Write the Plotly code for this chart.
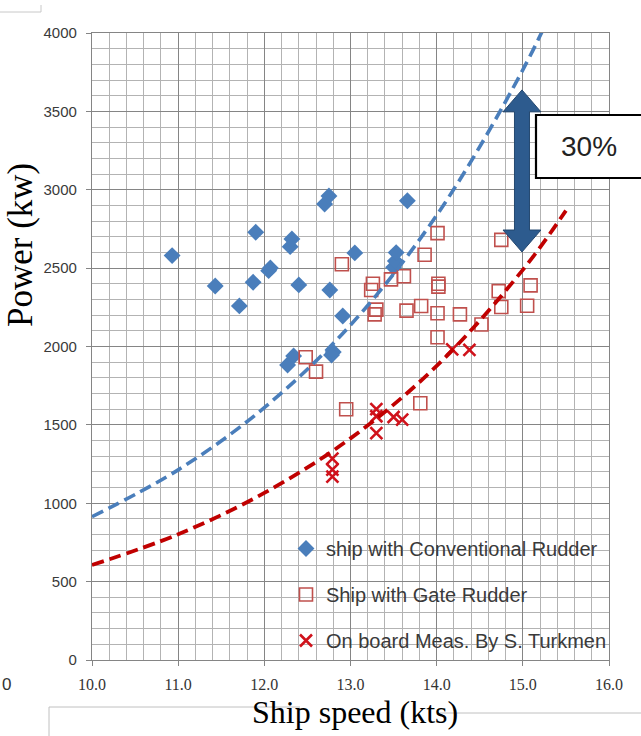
import plotly.graph_objects as go

# ---------------- data ----------------
conv_speed = [10.93, 11.43, 11.71, 11.87, 11.90, 12.05, 12.07, 12.30, 12.32, 12.40,
              12.27, 12.34, 12.70, 12.75, 12.76, 12.80, 12.78, 12.91, 13.05, 13.50,
              13.52, 13.53, 13.66]
conv_power = [2580, 2386, 2259, 2410, 2729, 2484, 2501, 2637, 2686, 2393,
              1882, 1940, 2909, 2960, 2360, 1965, 1945, 2195, 2597, 2505,
              2545, 2599, 2930]

gate_speed = [12.48, 12.60, 12.90, 12.95, 13.24, 13.26, 13.28, 13.30, 13.47, 13.62,
              13.65, 13.81, 13.82, 13.86, 14.01, 14.01, 14.01, 14.02, 14.02, 14.27,
              14.52, 14.72, 14.75, 14.75, 15.05, 15.09]
gate_power = [1931, 1840, 2525, 1600, 2360, 2400, 2205, 2235, 2428, 2448,
              2229, 1638, 2258, 2585, 2723, 2212, 2059, 2400, 2382, 2205,
              2140, 2353, 2252, 2680, 2260, 2390]

board_speed = [12.79, 12.79, 12.79, 13.30, 13.30, 13.30, 13.50, 13.60, 14.18, 14.38]
board_power = [1285, 1215, 1170, 1600, 1555, 1447, 1550, 1533, 1982, 1978]

# dashed trend curves, read at whole knots
trend_speed = [10.0, 11.0, 12.0, 13.0, 14.0, 15.0, 15.5]
trend_conv = [914, 1213, 1610, 2137, 2837, 3765, 4338]
trend_gate = [606, 802, 1066, 1414, 1876, 2489, 2867]

series_names = ["ship with Conventional Rudder", "Ship with Gate Rudder",
                "On board Meas. By S. Turkmen"]

x_title = "Ship speed (kts)"
y_title = "Power (kw)"
gap_label = "30%"

# double arrow marking the gap (data units)
arrow_x = 14.99
arrow_top = 3637
arrow_bottom = 2603

# ---------------- styling ----------------
BLUE = "#4A7EBB"
SQ_RED = "#C0504D"
X_RED = "#D0121B"
TREND_RED = "#C00000"

fig = go.Figure()

fig.add_trace(go.Scatter(
    x=conv_speed, y=conv_power, mode="markers", name=series_names[0],
    legendgroup="a",
    marker=dict(symbol="diamond", size=13, color=BLUE, line=dict(width=0))))
fig.add_trace(go.Scatter(
    x=gate_speed, y=gate_power, mode="markers", name=series_names[1],
    legendgroup="b",
    marker=dict(symbol="square-open", size=13, color=SQ_RED, line=dict(width=1.6))))
fig.add_trace(go.Scatter(
    x=board_speed, y=board_power, mode="markers", name=series_names[2],
    legendgroup="c",
    marker=dict(symbol="x-thin-open", size=12, color=X_RED, line=dict(width=2.6, color=X_RED))))

fig.add_trace(go.Scatter(
    x=trend_speed, y=trend_conv, mode="lines", showlegend=False, hoverinfo="skip",
    line=dict(color=BLUE, width=3.6, dash="12px,6px", shape="spline")))
fig.add_trace(go.Scatter(
    x=trend_speed, y=trend_gate, mode="lines", showlegend=False, hoverinfo="skip",
    line=dict(color=TREND_RED, width=3.8, dash="12px,6px", shape="spline")))

# arrow polygon built from its parameters
shaft_hw = 0.087
head_hw = 0.22
head_len = 140
p = [
    (arrow_x, arrow_top),
    (arrow_x + head_hw, arrow_top - head_len),
    (arrow_x + shaft_hw, arrow_top - head_len),
    (arrow_x + shaft_hw, arrow_bottom + head_len),
    (arrow_x + head_hw, arrow_bottom + head_len),
    (arrow_x, arrow_bottom),
    (arrow_x - head_hw, arrow_bottom + head_len),
    (arrow_x - shaft_hw, arrow_bottom + head_len),
    (arrow_x - shaft_hw, arrow_top - head_len),
    (arrow_x - head_hw, arrow_top - head_len),
]
path = "M " + " L ".join(f"{a},{b}" for a, b in p) + " Z"

W, H = 641, 736
L, R, T, B = 92, 32, 33, 76
pw, ph = W - L - R, H - T - B


def px(xp):
    return (xp - L) / pw


def py(yp):
    return (H - B - yp) / ph


shapes = [
    dict(type="path", path=path, xref="x", yref="y", fillcolor="#2D5B8E",
         line=dict(color="#23476F", width=1), layer="above"),
    dict(type="rect", xref="paper", yref="paper", x0=px(536), x1=px(650),
         y0=py(178), y1=py(115), fillcolor="white", line=dict(color="black", width=2.2),
         layer="above"),
    # faint lines from the page around the chart
    dict(type="line", xref="paper", yref="paper", x0=px(0), x1=px(41), y0=py(12), y1=py(12),
         line=dict(color="#c8c8c8", width=1)),
    dict(type="line", xref="paper", yref="paper", x0=px(41), x1=px(41), y0=py(5), y1=py(12),
         line=dict(color="#c8c8c8", width=1)),
    dict(type="line", xref="paper", yref="paper", x0=px(49), x1=px(49), y0=py(707), y1=py(740),
         line=dict(color="#c0c0c0", width=1)),
    dict(type="line", xref="paper", yref="paper", x0=px(49), x1=px(300), y0=py(707), y1=py(707),
         line=dict(color="#c0c0c0", width=1)),
    dict(type="line", xref="paper", yref="paper", x0=px(440), x1=px(650), y0=py(713), y1=py(713),
         line=dict(color="#c0c0c0", width=1)),
]

annotations = [
    dict(text=gap_label, xref="paper", yref="paper", x=px(589), y=py(147),
         showarrow=False, font=dict(family="Liberation Sans", size=28, color="#222222"),
         xanchor="center", yanchor="middle"),
    dict(text=x_title, xref="paper", yref="paper", x=px(355), y=py(712),
         showarrow=False, font=dict(family="Liberation Serif", size=32, color="black"),
         xanchor="center", yanchor="middle"),
    dict(text=y_title, xref="paper", yref="paper", x=px(21), y=py(245), textangle=-90,
         showarrow=False, font=dict(family="Liberation Serif", size=35, color="black"),
         xanchor="center", yanchor="middle"),
    dict(text="0", xref="paper", yref="paper", x=px(0), y=py(684),
         showarrow=False, font=dict(family="Liberation Sans", size=17, color="#333333"),
         xanchor="left", yanchor="middle"),
]

MAJOR = "#858585"
MINOR = "#b3b3b3"

fig.update_layout(
    width=W, height=H,
    margin=dict(l=L, r=R, t=T, b=B, pad=0),
    paper_bgcolor="white", plot_bgcolor="white",
    showlegend=True,
    legend=dict(x=px(286), y=py(660), xanchor="left", yanchor="bottom",
                bgcolor="rgba(0,0,0,0)", borderwidth=0, tracegroupgap=17,
                font=dict(family="Liberation Sans", size=20, color="#3a3a3a")),
    shapes=shapes, annotations=annotations,
    xaxis=dict(range=[10, 16], dtick=1, tick0=10, tickformat=".1f",
               showgrid=True, gridcolor=MAJOR, gridwidth=1.2,
               minor=dict(dtick=0.2, showgrid=True, gridcolor=MINOR, gridwidth=1.1),
               showline=True, linecolor=MAJOR, linewidth=1.2, mirror=True,
               ticks="outside", ticklen=5, tickcolor=MAJOR, ticklabelstandoff=5,
               zeroline=False,
               tickfont=dict(family="Liberation Serif", size=16, color="#333333")),
    yaxis=dict(range=[0, 4000], dtick=500, tick0=0, tickformat="d",
               showgrid=True, gridcolor=MAJOR, gridwidth=1.2,
               minor=dict(dtick=100, showgrid=True, gridcolor=MINOR, gridwidth=1.1),
               showline=True, linecolor=MAJOR, linewidth=1.2, mirror=True,
               ticks="outside", ticklen=5, tickcolor=MAJOR, ticklabelstandoff=6,
               zeroline=False,
               tickfont=dict(family="Liberation Sans", size=15, color="#3a3a3a")),
)

fig.write_html("out.html",
               config={"displayModeBar": False},
               post_script="document.body.style.margin='0px';"
                           "document.body.style.overflow='hidden';")
